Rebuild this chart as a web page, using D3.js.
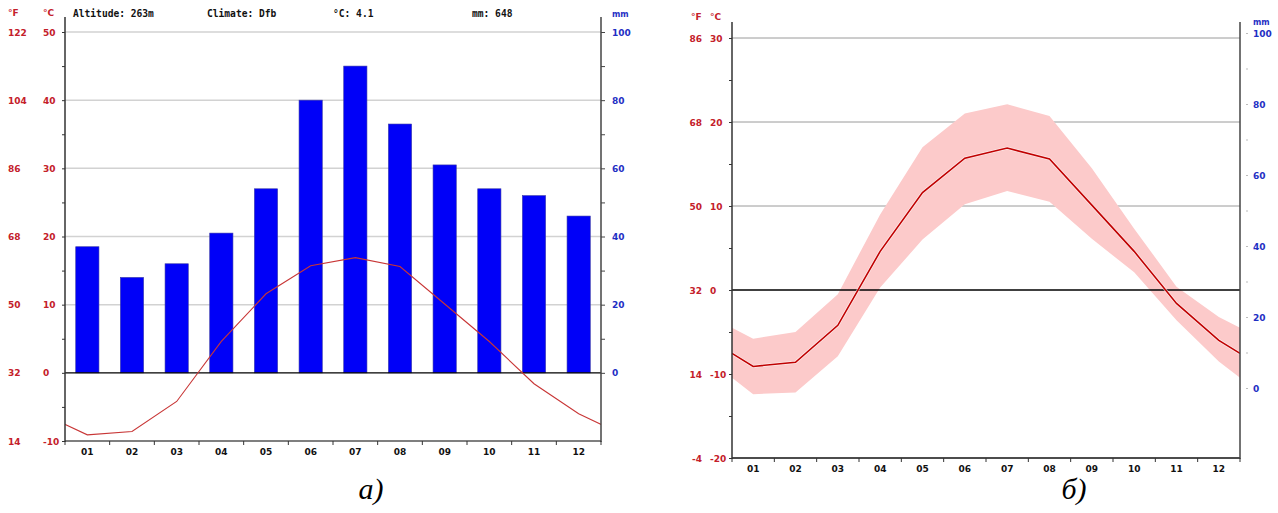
<!DOCTYPE html>
<html><head><meta charset="utf-8">
<script src="https://cdn.jsdelivr.net/npm/d3@7"></script>
<style>body{margin:0;background:#fff}svg{display:block}</style>
</head><body>
<svg id="c" width="1278" height="513"></svg>
<script>
const months = ["01","02","03","04","05","06","07","08","09","10","11","12"];
const precip = [37,28,32,41,54,80,90,73,61,54,52,46];
const tempMean = [-9.1,-8.6,-4.2,4.6,11.6,15.7,16.9,15.6,10.1,4.6,-1.6,-6.0];
const tempMax = [-5.8,-5.0,-0.5,9.0,17.0,21.0,22.1,20.7,14.5,7.3,0.4,-3.2];
const tempMin = [-12.4,-12.2,-7.9,0.3,6.0,10.2,11.8,10.5,6.1,2.1,-3.6,-8.5];
const headerLabels = ["Altitude: 263m","Climate: Dfb","°C: 4.1","mm: 648"];
const leftTempTicks = [-10,0,10,20,30,40,50];
const leftFLabels = ["14","32","50","68","86","104","122"];
const leftMmTicks = [0,20,40,60,80,100];
const rightTempTicks = [-20,-10,0,10,20,30];
const rightFLabels = ["-4","14","32","50","68","86"];
const rightMmTicks = [0,20,40,60,80,100];
const captions = ["а)","б)"];

const RED = "#c4202a", BLUE = "#1f2fc4";
const svg = d3.select("#c");
const lblFont = "DejaVu Sans";

// ---------------- Chart a ----------------
(function(){
  const L = 65, R = 601, T = 17;
  const g = svg.append("g");
  const y = d3.scaleLinear().domain([-10,50]).range([441,32]);
  const yP = d3.scaleLinear().domain([-20,100]).range([441,32]);
  const x = d3.scaleBand().domain(months).range([L,R]).paddingInner(0.48).paddingOuter(0.24);
  const step = x.step();
  const cx = m => x(m) + x.bandwidth()/2;

  // grid
  g.selectAll(".grid").data(leftTempTicks.filter(d=>d>0)).join("line")
    .attr("x1",L).attr("x2",R).attr("y1",d=>y(d)).attr("y2",d=>y(d))
    .attr("stroke","#d2d2d2").attr("stroke-width",1.5);

  // bars
  g.selectAll(".bar").data(precip).join("rect")
    .attr("x",(d,i)=>x(months[i])).attr("width",x.bandwidth())
    .attr("y",d=>yP(d)).attr("height",d=>yP(0)-yP(d))
    .attr("fill","#0000f8").attr("stroke","#3a3aa8").attr("stroke-width",0.6);

  // zero line
  g.append("line").attr("x1",L).attr("x2",R).attr("y1",y(0)).attr("y2",y(0))
    .attr("stroke","#000").attr("stroke-width",1.3);

  // temperature line (extended cyclically, clipped)
  svg.append("clipPath").attr("id","clipA").append("rect")
    .attr("x",L).attr("y",T).attr("width",R-L).attr("height",441-T);
  const pts = [[cx(months[0])-step, tempMean[11]]]
    .concat(tempMean.map((d,i)=>[cx(months[i]), d]))
    .concat([[cx(months[11])+step, tempMean[0]]]);
  g.append("path").attr("clip-path","url(#clipA)")
    .attr("d", d3.line().x(d=>d[0]).y(d=>y(d[1]))(pts))
    .attr("fill","none").attr("stroke","#c83636").attr("stroke-width",1.1);

  // axes lines
  g.append("line").attr("x1",L).attr("x2",R).attr("y1",441).attr("y2",441)
    .attr("stroke","#555").attr("stroke-width",1.6);
  g.append("line").attr("x1",L).attr("x2",L).attr("y1",T).attr("y2",442)
    .attr("stroke","#333").attr("stroke-width",1.5);
  g.append("line").attr("x1",R).attr("x2",R).attr("y1",T).attr("y2",442)
    .attr("stroke","#444").attr("stroke-width",1.5);

  // left ticks every 5
  g.append("g").attr("transform",`translate(${L},0)`)
    .call(d3.axisLeft(y).tickValues(d3.range(-10,51,5)).tickSize(3).tickFormat(""))
    .call(a=>a.select(".domain").remove())
    .call(a=>a.selectAll("line").attr("stroke","#333"));
  // right ticks every 10mm
  g.append("g").attr("transform",`translate(${R},0)`)
    .call(d3.axisRight(yP).tickValues(d3.range(0,101,10)).tickSize(4).tickFormat(""))
    .call(a=>a.select(".domain").remove())
    .call(a=>a.selectAll("line").attr("stroke","#444"));
  // bottom ticks at band boundaries
  g.selectAll(".bt").data(d3.range(13)).join("line")
    .attr("x1",d=>L+d*step).attr("x2",d=>L+d*step).attr("y1",441).attr("y2",445)
    .attr("stroke","#333");

  // labels
  const lab = g.append("g").attr("font-family",lblFont).attr("font-size",9).attr("font-weight","bold");
  lab.selectAll(".tc").data(leftTempTicks).join("text")
    .attr("x",43).attr("y",d=>y(d)+3.5).attr("fill",RED).text(d=>d);
  lab.selectAll(".tf").data(leftFLabels).join("text")
    .attr("x",8).attr("y",(d,i)=>y(leftTempTicks[i])+3.5).attr("fill",RED).text(d=>d);
  lab.selectAll(".tm").data(leftMmTicks).join("text")
    .attr("x",612).attr("y",d=>yP(d)+3.5).attr("fill",BLUE).text(d=>d);
  lab.append("text").attr("x",8).attr("y",16).attr("fill",RED).text("°F");
  lab.append("text").attr("x",43).attr("y",16).attr("fill",RED).text("°C");
  lab.append("text").attr("x",612).attr("y",17).attr("fill",BLUE).attr("font-size",8).text("mm");
  lab.selectAll(".mx").data(months).join("text")
    .attr("x",d=>cx(d)).attr("y",455).attr("text-anchor","middle").attr("fill","#111").text(d=>d);

  const hx = [73,207,333,472];
  g.append("g").attr("font-family","DejaVu Sans Mono").attr("font-size",9.6).attr("font-weight","bold")
    .selectAll("text").data(headerLabels).join("text")
    .attr("x",(d,i)=>hx[i]).attr("y",17).attr("fill","#111").text(d=>d);
})();

// ---------------- Chart b ----------------
(function(){
  const L = 732, R = 1240, T = 22, B = 458;
  const g = svg.append("g");
  const y = d3.scaleLinear().domain([-20,30]).range([B,38]);
  const yP = d3.scaleLinear().domain([0,100]).range([388,33]);
  const x = d3.scaleBand().domain(months).range([L,R]);
  const step = x.step();
  const cx = m => x(m) + step/2;

  g.selectAll(".grid").data([10,20,30]).join("line")
    .attr("x1",L).attr("x2",R).attr("y1",d=>y(d)).attr("y2",d=>y(d))
    .attr("stroke","#9a9a9a").attr("stroke-width",1);

  svg.append("clipPath").attr("id","clipB").append("rect")
    .attr("x",L).attr("y",T).attr("width",R-L).attr("height",B-T);
  const idx = [11].concat(d3.range(12)).concat([0]);
  const xs = [cx(months[0])-step].concat(months.map(cx)).concat([cx(months[11])+step]);
  const area = d3.area().x((d,i)=>xs[i]).y0(d=>y(tempMin[d])).y1(d=>y(tempMax[d]));
  g.append("path").attr("clip-path","url(#clipB)").attr("d",area(idx)).attr("fill","#fccaca");

  g.append("line").attr("x1",L).attr("x2",R).attr("y1",y(0)).attr("y2",y(0))
    .attr("stroke","#000").attr("stroke-width",1.3);

  const line = d3.line().x((d,i)=>xs[i]).y(d=>y(tempMean[d]));
  g.append("path").attr("clip-path","url(#clipB)").attr("d",line(idx))
    .attr("fill","none").attr("stroke","#fff").attr("stroke-width",3).attr("stroke-opacity",0.6);
  g.append("path").attr("clip-path","url(#clipB)").attr("d",line(idx))
    .attr("fill","none").attr("stroke","#c00000").attr("stroke-width",1.6);

  g.append("line").attr("x1",L).attr("x2",R).attr("y1",B).attr("y2",B)
    .attr("stroke","#111").attr("stroke-width",1.6);
  g.append("line").attr("x1",L).attr("x2",L).attr("y1",T).attr("y2",B+1)
    .attr("stroke","#333").attr("stroke-width",1.5);
  g.append("line").attr("x1",R).attr("x2",R).attr("y1",T).attr("y2",B+1)
    .attr("stroke","#444").attr("stroke-width",1.5);

  g.append("g").attr("transform",`translate(${L},0)`)
    .call(d3.axisLeft(y).tickValues(d3.range(-20,31,5)).tickSize(3).tickFormat(""))
    .call(a=>a.select(".domain").remove())
    .call(a=>a.selectAll("line").attr("stroke","#333"));
  g.append("g").attr("transform",`translate(${R+6},0)`)
    .call(d3.axisRight(yP).tickValues(d3.range(0,101,10)).tickSize(2).tickFormat(""))
    .call(a=>a.select(".domain").remove())
    .call(a=>a.selectAll("line").attr("stroke","#bbb"));
  g.selectAll(".bt").data(d3.range(13)).join("line")
    .attr("x1",d=>L+d*step).attr("x2",d=>L+d*step).attr("y1",B).attr("y2",B+4)
    .attr("stroke","#333");

  const lab = g.append("g").attr("font-family",lblFont).attr("font-size",9).attr("font-weight","bold");
  lab.selectAll(".tc").data(rightTempTicks).join("text")
    .attr("x",710).attr("y",d=>y(d)+3.5).attr("fill",RED).text(d=>d);
  lab.selectAll(".tf").data(rightFLabels).join("text")
    .attr("x",702).attr("y",(d,i)=>y(rightTempTicks[i])+3.5).attr("text-anchor","end").attr("fill",RED).text(d=>d);
  lab.selectAll(".tm").data(rightMmTicks).join("text")
    .attr("x",1253).attr("y",d=>yP(d)+3.5).attr("fill",BLUE).text(d=>d);
  lab.append("text").attr("x",691).attr("y",20).attr("fill",RED).text("°F");
  lab.append("text").attr("x",710).attr("y",20).attr("fill",RED).text("°C");
  lab.append("text").attr("x",1253).attr("y",25).attr("fill",BLUE).attr("font-size",8).text("mm");
  lab.selectAll(".mx").data(months).join("text")
    .attr("x",d=>cx(d)).attr("y",472).attr("text-anchor","middle").attr("fill","#111").text(d=>d);
})();

// captions
svg.selectAll(".cap").data(captions).join("text")
  .attr("x",(d,i)=>[371,1074][i]).attr("y",499).attr("text-anchor","middle")
  .attr("font-family","Liberation Serif").attr("font-style","italic").attr("font-size",30)
  .attr("fill","#000").text(d=>d);
</script>
</body></html>
